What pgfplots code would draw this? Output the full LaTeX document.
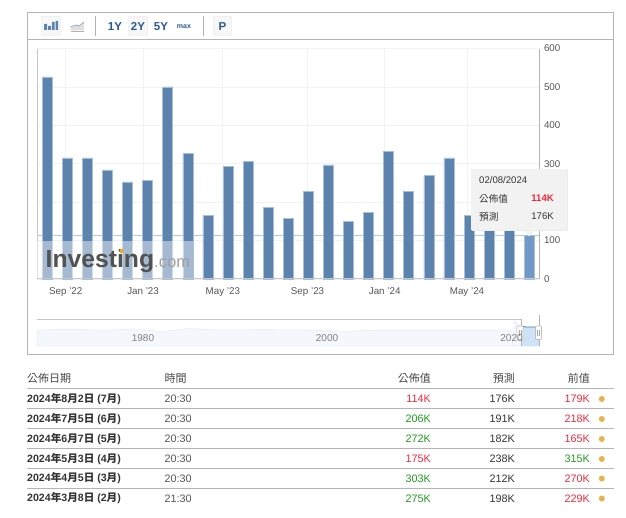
\documentclass[border=0pt]{standalone}
\usepackage{fontspec}
\usepackage{pgfplots}
\pgfplotsset{compat=1.18}
\setmainfont{Liberation Sans}
\newfontfamily\cjk{Noto Sans CJK TC}
\definecolor{barblue}{HTML}{5C82AE}
\definecolor{barhover}{HTML}{7099C8}
\definecolor{baredge}{HTML}{A9BFD8}
\definecolor{gridc}{HTML}{F1F2F4}
\definecolor{axisc}{HTML}{C4C7CA}
\definecolor{framec}{HTML}{B4B4B4}
\definecolor{labelc}{HTML}{555555}
\definecolor{navyc}{HTML}{2B5A8E}
\definecolor{upc}{HTML}{1E9B1E}
\definecolor{downc}{HTML}{F0283C}
\definecolor{dotc}{HTML}{E8B24C}
\definecolor{rowc}{HTML}{333333}
\definecolor{crossc}{HTML}{A8CDE6}
\definecolor{navfill}{HTML}{F4F8FC}
\definecolor{navline}{HTML}{E2EAF3}
\definecolor{navsel}{HTML}{CFE3F7}
\newcommand{\dt}[3]{2024{\cjk 年}#1{\cjk 月}#2{\cjk 日} (#3{\cjk 月})}
\pgfplotstableread{
x y
0 526
1 315
2 315
3 284
4 253
5 256
6 500
7 326
8 165
9 294
10 306
11 187
12 157
13 227
14 297
15 150
16 173
17 333
18 229
19 270
20 315
21 165
22 218
23 179
}\payrolls
\pgfplotstableread{
year level
1968.5 0.84
1972 0.88
1976 0.83
1979 0.90
1982 0.76
1985 0.92
1988 0.84
1993 0.86
1998 0.84
2002 0.78
2006 0.84
2012 0.84
2018 0.84
2019.9 0.84
2020.1 0.05
2020.3 1.32
2021 0.98
2023 0.84
}\navdata
\begin{document}
\begin{tikzpicture}
\path[use as bounding box] (0pt,0pt) rectangle (626pt,-518pt);
\begin{axis}[
  at={(37pt,-279pt)}, anchor=south west,
  scale only axis, width=502.5pt, height=230.5pt,
  xmin=-0.513, xmax=24.51, ymin=0, ymax=600,
  ybar, bar width=10pt,
  axis line style={draw=none},
  xtick={0.92,4.77,8.74,12.96,16.8,20.9},
  xticklabels={Sep '22,Jan '23,May '23,Sep '23,Jan '24,May '24},
  ytick={0,100,200,300,400,500,600},
  ymajorgrids, xmajorgrids,
  grid style={gridc,line width=0.8pt},
  major tick length=0pt,
  yticklabel pos=right,
  tick label style={font=\fontsize{9.8}{11}\selectfont,text=labelc},
  /pgf/number format/assume math mode=true,
  xticklabel style={yshift=-5pt},
  yticklabel style={xshift=1pt,anchor=west},
  clip=false,
]
\addplot[sharp plot, no marks, forget plot, color=crossc, line width=0.9pt] coordinates {(-0.513,114) (24.51,114)};
\addplot[bar shift=0pt, fill=barblue, draw=baredge, line width=0.6pt] table[x=x,y=y] {\payrolls};
\addplot[bar shift=0pt, fill=barhover, draw=baredge, line width=0.6pt] coordinates {(24,114)};
\end{axis}
\begin{axis}[
  at={(37pt,-346pt)}, anchor=south west,
  scale only axis, width=502.5pt, height=19pt,
  xmin=1968.5, xmax=2023, ymin=0, ymax=1,
  hide axis, clip=false,
]
\addplot[fill=navfill, draw=navline, line width=0.5pt] table[x=year,y=level] {\navdata} \closedcycle;
\end{axis}
\begin{scope}[x=1pt,y=-1pt]
% plot frame
\draw[axisc, line width=1pt] (37,48) -- (37,278.5) -- (539.5,278.5);
\draw[framec, line width=0.8pt] (539.5,48) -- (539.5,278.5);
\draw[gridc, line width=0.8pt] (37,48) -- (539.5,48);
% watermark
\fill[white, opacity=0.45] (37,240.7) rectangle (193,278);
\node[anchor=base west, inner sep=0, text=black!68, font=\bfseries\fontsize{24.7}{26}\selectfont] at (45.5,268) {Investing};
\node[anchor=base west, inner sep=0, text=black!38, font=\fontsize{16.6}{18}\selectfont] at (154,268) {.com};
\fill[orange!70!yellow] (119.5,249.5) rectangle (123,253);
% outer frame and toolbar
\draw[framec, line width=0.9pt] (27,12) rectangle (613.7,354);
\draw[framec, line width=0.7pt] (27,39.3) -- (613.7,39.3);
\draw[black!30, line width=0.7pt] (95.3,16) -- (95.3,36) (203.3,16) -- (203.3,36);
\draw[black!12, fill=black!3, rounded corners=1pt] (41.5,16.5) rectangle (60.5,35.5);
\draw[black!12, fill=black!3, rounded corners=1pt] (128.5,16.5) rectangle (147.5,35.5);
\draw[black!12, fill=black!3, rounded corners=1pt] (213.5,16.5) rectangle (231.5,35.5);
\fill[barblue] (44,24) rectangle (47,30) (48,26) rectangle (51,30) (52,22) rectangle (54.5,30) (55.5,21) rectangle (58,30);
\fill[black!12] (70.5,30.5) -- (70.5,27) -- (76,25) -- (79,26) -- (84,22) -- (84,30.5) -- cycle;
\draw[barblue!70, line width=0.7pt] (70.5,27) -- (76,25) -- (79,26) -- (84,22);
\draw[black!30, line width=0.7pt] (70.5,31.5) -- (84,31.5);
\foreach \px/\txt in {115/1Y,138/2Y,161/5Y,222.5/P}
  \node[text=navyc, font=\bfseries\fontsize{11.5}{12}\selectfont, inner sep=0] at (\px,26.5) {\txt};
\node[text=navyc, font=\bfseries\fontsize{7}{8}\selectfont, inner sep=0] at (184,26.5) {max};
% navigator
\draw[axisc, line width=0.8pt] (37,319.3) -- (521.7,319.3);
\fill[navsel] (521.7,327) rectangle (539,346);
\draw[barblue!90!black, line width=0.9pt] (523,326.5) -- (526,327) -- (538,327);
\draw[framec, line width=0.5pt] (521.7,319.3) -- (521.7,346) (539,315) -- (539,346);
\foreach \px in {520,538.5} {
  \draw[black!25, fill=white, rounded corners=0.8pt, line width=0.6pt] (\px-3,326) rectangle (\px+3,339.5);
  \draw[black!35, line width=0.5pt] (\px-1,330) -- (\px-1,336) (\px+1,330) -- (\px+1,336);
}
\foreach \px/\txt in {143/1980,327/2000,511.5/2020}
  \node[text=black!50, font=\fontsize{10}{11}\selectfont, inner sep=0] at (\px,338.5) {\txt};
% tooltip
\fill[black!8] (472,170) rectangle (568,231);
\fill[black!5] (471,168.7) rectangle (567,230);
\fill[black!5] (523,230) -- (529,236.5) -- (535,230) -- cycle;
\node[anchor=west, text=rowc, inner sep=0, font=\fontsize{9.6}{11}\selectfont] at (479,180.5) {02/08/2024};
\node[anchor=west, text=rowc, inner sep=0, font=\cjk\fontsize{9.6}{11}\selectfont] at (479,198.5) {公佈值};
\node[anchor=west, text=rowc, inner sep=0, font=\cjk\fontsize{9.6}{11}\selectfont] at (479,216.5) {預測};
\node[anchor=east, text=downc, inner sep=0, font=\bfseries\fontsize{9.6}{11}\selectfont] at (554,198.5) {114K};
\node[anchor=east, text=rowc, inner sep=0, font=\fontsize{9.6}{11}\selectfont] at (554,216.5) {176K};
% table
\foreach \ly in {388.3,408.3,428.3,448.3,468.3,488.3}
  \draw[framec, line width=0.8pt] (27,\ly) -- (614,\ly);
\node[anchor=west, text=labelc!85!black, inner sep=0, font=\cjk\fontsize{11}{12}\selectfont] at (27,378.5) {公佈日期};
\node[anchor=west, text=labelc!85!black, inner sep=0, font=\cjk\fontsize{11}{12}\selectfont] at (164.5,378.5) {時間};
\node[anchor=east, text=labelc!85!black, inner sep=0, font=\cjk\fontsize{11}{12}\selectfont] at (431,378.5) {公佈值};
\node[anchor=east, text=labelc!85!black, inner sep=0, font=\cjk\fontsize{11}{12}\selectfont] at (515,378.5) {預測};
\node[anchor=east, text=labelc!85!black, inner sep=0, font=\cjk\fontsize{11}{12}\selectfont] at (590,378.5) {前值};
\foreach \ry/\mo/\da/\rm/\ti/\act/\actc/\fc/\pv/\pvc in {
  399/8/2/7/20:30/114K/downc/176K/179K/downc,
  419/7/5/6/20:30/206K/upc/191K/218K/downc,
  439/6/7/5/20:30/272K/upc/182K/165K/downc,
  459/5/3/4/20:30/175K/downc/238K/315K/upc,
  478.5/4/5/3/20:30/303K/upc/212K/270K/downc,
  498.5/3/8/2/21:30/275K/upc/198K/229K/downc}{
  \node[anchor=west, text=rowc, inner sep=0, font=\bfseries\fontsize{10.6}{12}\selectfont] at (27,\ry) {\dt{\mo}{\da}{\rm}};
  \node[anchor=west, text=labelc, inner sep=0, font=\fontsize{10.8}{12}\selectfont] at (164.5,\ry) {\ti};
  \node[anchor=east, text=\actc, inner sep=0, font=\fontsize{10.8}{12}\selectfont] at (431,\ry) {\act};
  \node[anchor=east, text=rowc, inner sep=0, font=\fontsize{10.8}{12}\selectfont] at (515,\ry) {\fc};
  \node[anchor=east, text=\pvc, inner sep=0, font=\fontsize{10.8}{12}\selectfont] at (590,\ry) {\pv};
  \fill[dotc] (601.8,\ry) circle (3);
}
\end{scope}
\end{tikzpicture}
\end{document}
